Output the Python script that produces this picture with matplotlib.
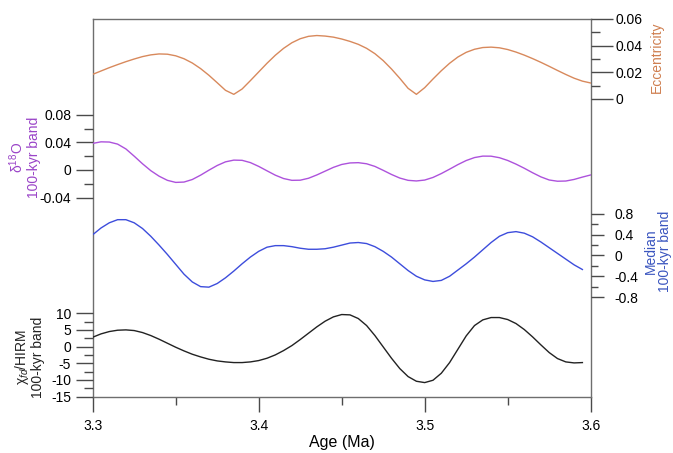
import numpy as np
import matplotlib
matplotlib.use("Agg")
import matplotlib.pyplot as plt

plt.rcParams['font.family'] = ['Liberation Sans', 'DejaVu Sans']
plt.rcParams['mathtext.fontset'] = 'custom'
plt.rcParams['mathtext.rm'] = 'Liberation Sans'
plt.rcParams['mathtext.it'] = 'Liberation Sans:italic'

# ages (Ma), 5 kyr step
age = [3.300, 3.305, 3.310, 3.315, 3.320, 3.325, 3.330, 3.335, 3.340, 3.345,
       3.350, 3.355, 3.360, 3.365, 3.370, 3.375, 3.380, 3.385, 3.390, 3.395,
       3.400, 3.405, 3.410, 3.415, 3.420, 3.425, 3.430, 3.435, 3.440, 3.445,
       3.450, 3.455, 3.460, 3.465, 3.470, 3.475, 3.480, 3.485, 3.490, 3.495,
       3.500, 3.505, 3.510, 3.515, 3.520, 3.525, 3.530, 3.535, 3.540, 3.545,
       3.550, 3.555, 3.560, 3.565, 3.570, 3.575, 3.580, 3.585, 3.590, 3.595,
       3.600]

ecc = [0.0185, 0.0210, 0.0235, 0.0258, 0.0280, 0.0300, 0.0318, 0.0331, 0.0338, 0.0336,
       0.0324, 0.0302, 0.0270, 0.0228, 0.0178, 0.0122, 0.0065, 0.0035, 0.0075, 0.0138,
       0.0203, 0.0268, 0.0328, 0.0380, 0.0422, 0.0452, 0.0470, 0.0476, 0.0472, 0.0464,
       0.0450, 0.0432, 0.0410, 0.0380, 0.0340, 0.0288, 0.0225, 0.0155, 0.0080, 0.0035,
       0.0085, 0.0150, 0.0212, 0.0268, 0.0315, 0.0350, 0.0373, 0.0386, 0.0389, 0.0384,
       0.0371, 0.0352, 0.0329, 0.0303, 0.0275, 0.0245, 0.0214, 0.0184, 0.0156, 0.0134,
       0.0120]

d18o = [0.0385, 0.0408, 0.0405, 0.0375, 0.0305, 0.0200, 0.0090, -0.0010, -0.0090, -0.0150,
        -0.0180, -0.0175, -0.0138, -0.0075, -0.0003, 0.0065, 0.0118, 0.0143, 0.0140, 0.0107,
        0.0052, -0.0012, -0.0075, -0.0124, -0.0150, -0.0148, -0.0120, -0.0072, -0.0017, 0.0038,
        0.0080, 0.0102, 0.0106, 0.0090, 0.0052, -0.0005, -0.0065, -0.0117, -0.0150, -0.0159,
        -0.0146, -0.0108, -0.0052, 0.0012, 0.0078, 0.0137, 0.0180, 0.0201, 0.0200, 0.0178,
        0.0138, 0.0085, 0.0025, -0.0040, -0.0100, -0.0145, -0.0163, -0.0160, -0.0137, -0.0103,
        -0.0072]

median = [0.40, 0.53, 0.63, 0.69, 0.69, 0.63, 0.52, 0.37, 0.20, 0.02,
          -0.17, -0.36, -0.51, -0.60, -0.61, -0.54, -0.43, -0.30, -0.16, -0.03,
          0.08, 0.16, 0.19, 0.19, 0.17, 0.14, 0.12, 0.12, 0.13, 0.16,
          0.20, 0.24, 0.25, 0.23, 0.17, 0.08, -0.03, -0.16, -0.29, -0.40,
          -0.47, -0.50, -0.48, -0.40, -0.28, -0.16, -0.03, 0.11, 0.25, 0.37,
          0.44, 0.46, 0.43, 0.36, 0.26, 0.15, 0.04, -0.07, -0.18, -0.27]

chi = [2.8, 3.8, 4.5, 4.9, 5.0, 4.8, 4.2, 3.3, 2.2, 1.0,
       -0.2, -1.3, -2.3, -3.1, -3.8, -4.3, -4.6, -4.8, -4.8, -4.6,
       -4.2, -3.5, -2.5, -1.2, 0.3, 2.1, 4.0, 5.9, 7.6, 8.9,
       9.6, 9.5, 8.4, 6.3, 3.3, -0.1, -3.5, -6.6, -9.0, -10.4,
       -10.8, -10.1, -8.0, -4.8, -0.8, 3.2, 6.3, 8.0, 8.7, 8.7,
       8.1, 6.9, 5.1, 2.9, 0.5, -1.8, -3.6, -4.6, -4.9, -4.8]

ecc_ticks = [0, 0.02, 0.04, 0.06]
d18o_ticks = [-0.04, 0, 0.04, 0.08]
median_ticks = [-0.8, -0.4, 0, 0.4, 0.8]
chi_ticks = [-15, -10, -5, 0, 5, 10]

frame_col = '#6e6e6e'
tick_col = '#4a4a4a'

fig = plt.figure(figsize=(6.73, 4.53), dpi=100)
pos = [92.7 / 673, 1 - 396.6 / 453, (590.7 - 92.7) / 673, (396.6 - 19) / 453]
ax = fig.add_axes(pos)
ax.set_xlim(3.3, 3.6)
ax.set_yticks([])
ax.set_xticks([3.3, 3.4, 3.5, 3.6])
ax.set_xticklabels(['3.3', '3.4', '3.5', '3.6'])
ax.set_xticks([3.35, 3.45, 3.55], minor=True)
ax.tick_params(axis='x', which='major', length=10.8, width=1, color=tick_col, pad=5, labelsize=10)
ax.tick_params(axis='x', which='minor', length=5.5, width=1, color=tick_col)
for s in ax.spines.values():
    s.set_color(frame_col)
    s.set_linewidth(1.0)
ax.set_xlabel('Age (Ma)', fontsize=11.5, labelpad=2)


def sub_axis(ylim, major, minor, side, maj_len, min_len, pad, fmt):
    a = ax.twinx()
    a.set_position(pos)
    a.set_ylim(*ylim)
    for s in a.spines.values():
        s.set_visible(False)
    if side == 'left':
        a.yaxis.tick_left()
    else:
        a.yaxis.tick_right()
    a.set_yticks(major)
    a.set_yticklabels([fmt(v) for v in major])
    a.set_yticks(minor, minor=True)
    a.tick_params(axis='y', which='major', length=maj_len, width=1, color=tick_col,
                  pad=pad, labelsize=10)
    a.tick_params(axis='y', which='minor', length=min_len, width=1, color=tick_col)
    a.patch.set_visible(False)
    return a


a1 = sub_axis((-0.2232, 0.06), ecc_ticks, [0.01, 0.03, 0.05], 'right',
              16, 6.5, 1.5, lambda v: '0' if v == 0 else '%.2f' % v)
a1.plot(age, ecc, color='#d8895c', lw=1.0)

a2 = sub_axis((-0.3284, 0.2188), d18o_ticks, [-0.02, 0.02, 0.06], 'left',
              12, 6.3, 3.5, lambda v: '0' if v == 0 else '%.2f' % v)
a2.plot(age, d18o, color='#ad52dc', lw=1.0)

a3 = sub_axis((-2.719, 4.557), median_ticks, [-0.6, -0.2, 0.2, 0.6], 'right',
              9, 4.8, 8.4, lambda v: '0' if v == 0 else '%.1f' % v)
a3.plot(age[:len(median)], median, color='#3d4ddc', lw=1.0)

a4 = sub_axis((-15, 98.2), chi_ticks, [-12.5, -7.5, -2.5, 2.5, 7.5], 'left',
              12, 6.7, 3.5, lambda v: '%d' % v)
a4.plot(age[:len(chi)], chi, color='#222222', lw=1.0)

fig.text(657 / 673, 1 - 57 / 453, 'Eccentricity', rotation=90, ha='center', va='center',
         color='#cf7f50', fontsize=10)
fig.text(658 / 673, 1 - 251 / 453, 'Median\n100-kyr band', rotation=90, ha='center',
         va='center', color='#3a55bf', fontsize=10, linespacing=1.05, multialignment='center')
fig.text(24 / 673, 1 - 157 / 453, 'δ$^{18}$O\n100-kyr band', rotation=90, ha='center',
         va='center', color='#9a44c8', fontsize=10, linespacing=1.05, multialignment='center')
fig.text(29 / 673, 1 - 357 / 453, 'χ$_{fd}$/HIRM\n100-kyr band', rotation=90, ha='center',
         va='center', color='#222222', fontsize=10, linespacing=1.05, multialignment='center')

fig.savefig('out.png', dpi=100)
